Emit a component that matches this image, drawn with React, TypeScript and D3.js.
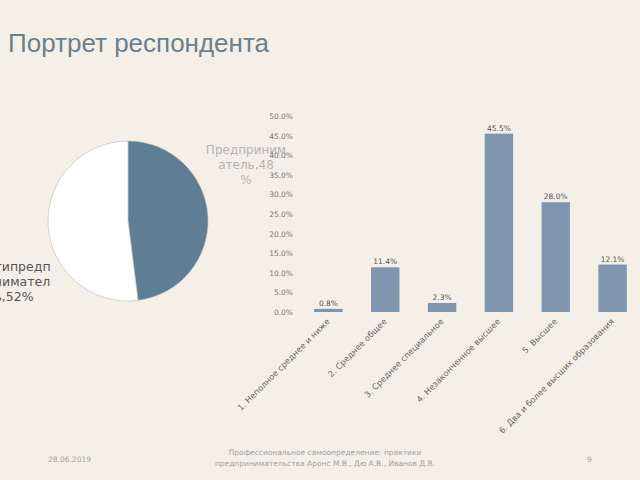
import React, { useRef, useEffect } from "react";
import * as d3 from "d3";

// pie data
const pieLabels = ["Предприниматель", "Непредприниматель"];
const pieValues = [48, 52];

// bar data
const categories = [
  "1. Неполное среднее и ниже",
  "2. Среднее общее",
  "3. Среднее специальное",
  "4. Незаконченное высшее",
  "5. Высшее",
  "6. Два и более высших образования",
];
const shares = [0.8, 11.4, 2.3, 45.5, 28.0, 12.1];
const yTicks = [0, 5, 10, 15, 20, 25, 30, 35, 40, 45, 50];

const W = 640;
const H = 480;

const App = () => {
  const svgRef = useRef<SVGSVGElement>(null);

  useEffect(() => {
    const svg = d3.select(svgRef.current);
    svg.selectAll("*").remove();

    svg.append("rect").attr("width", W).attr("height", H).attr("fill", "#f5f0e7");

    // title
    svg
      .append("text")
      .attr("x", 8)
      .attr("y", 52)
      .attr("font-family", "Liberation Sans, Arial, sans-serif")
      .attr("font-size", 26)
      .attr("fill", "#6b7f8c")
      .text("Портрет респондента");

    // pie
    const pieG = svg.append("g").attr("transform", "translate(128,221)");
    const pie = d3.pie<number>().sort(null).value((d) => d);
    const arc = d3.arc<d3.PieArcDatum<number>>().innerRadius(0).outerRadius(80);
    const pieColors = ["#5f7d93", "#ffffff"];
    pieG
      .selectAll("path")
      .data(pie(pieValues))
      .enter()
      .append("path")
      .attr("d", arc)
      .attr("fill", (d, i) => pieColors[i])
      .attr("stroke", "#b8b8b8")
      .attr("stroke-width", 0.6);

    // pie labels (wrapped like the original)
    const lbl1 = [pieLabels[0].slice(0, 10), pieLabels[0].slice(10) + "," + pieValues[0], "%"];
    svg
      .append("text")
      .attr("font-family", "DejaVu Sans, sans-serif")
      .attr("font-size", 12)
      .attr("fill", "#b4b4b4")
      .attr("text-anchor", "middle")
      .selectAll("tspan")
      .data(lbl1)
      .enter()
      .append("tspan")
      .attr("x", 246)
      .attr("y", (d, i) => 154 + i * 15)
      .text((d) => d);

    const lbl2 = ["Нетипредп", "ринимател", "ь," + pieValues[1] + "%"];
    svg
      .append("text")
      .attr("font-family", "DejaVu Sans, sans-serif")
      .attr("font-size", 12.5)
      .attr("fill", "#555555")
      .attr("text-anchor", "middle")
      .selectAll("tspan")
      .data(lbl2)
      .enter()
      .append("tspan")
      .attr("x", 14)
      .attr("y", (d, i) => 271 + i * 15)
      .text((d) => d);

    // bar chart
    const x = d3
      .scaleBand<string>()
      .domain(categories)
      .range([300, 641])
      .paddingInner(0.5)
      .paddingOuter(0.25);
    const y = d3.scaleLinear().domain([0, 50]).range([312, 116]);

    const yg = svg.append("g");
    yg.selectAll("text")
      .data(yTicks)
      .enter()
      .append("text")
      .attr("x", 293)
      .attr("y", (d) => y(d) + 3)
      .attr("text-anchor", "end")
      .attr("font-family", "DejaVu Sans, sans-serif")
      .attr("font-size", 7.5)
      .attr("fill", "#777777")
      .text((d) => d.toFixed(1) + "%");

    svg
      .append("g")
      .selectAll("rect")
      .data(shares)
      .enter()
      .append("rect")
      .attr("x", (d, i) => x(categories[i])!)
      .attr("y", (d) => y(d))
      .attr("width", x.bandwidth())
      .attr("height", (d) => y(0) - y(d))
      .attr("fill", "#7f96ae");

    svg
      .append("g")
      .selectAll("text")
      .data(shares)
      .enter()
      .append("text")
      .attr("x", (d, i) => x(categories[i])! + x.bandwidth() / 2)
      .attr("y", (d) => y(d) - 3)
      .attr("text-anchor", "middle")
      .attr("font-family", "DejaVu Sans, sans-serif")
      .attr("font-size", 7.5)
      .attr("fill", "#555555")
      .text((d) => d.toFixed(1) + "%");

    svg
      .append("g")
      .selectAll("text")
      .data(categories)
      .enter()
      .append("text")
      .attr(
        "transform",
        (d) => `translate(${x(d)! + x.bandwidth() / 2 + 2},${y(0) + 10}) rotate(-45)`
      )
      .attr("text-anchor", "end")
      .attr("font-family", "DejaVu Sans, sans-serif")
      .attr("font-size", 8.3)
      .attr("fill", "#666666")
      .text((d) => d);

    // footer
    const foot = svg
      .append("g")
      .attr("font-family", "DejaVu Sans, sans-serif")
      .attr("font-size", 7.5)
      .attr("fill", "#a0a0a0");
    foot.append("text").attr("x", 48).attr("y", 462).text("28.06.2019");
    foot
      .append("text")
      .attr("x", 325)
      .attr("y", 455)
      .attr("text-anchor", "middle")
      .text("Профессиональное самоопределение: практики");
    foot
      .append("text")
      .attr("x", 325)
      .attr("y", 466)
      .attr("text-anchor", "middle")
      .text("предпринимательства Аронс М.В., Дю А.В., Иванов Д.В.");
    foot.append("text").attr("x", 587).attr("y", 462).text("9");
  }, []);

  return (
    <svg
      ref={svgRef}
      width={W}
      height={H}
      style={{ position: "absolute", left: 0, top: 0 }}
    ></svg>
  );
};

export default App;
